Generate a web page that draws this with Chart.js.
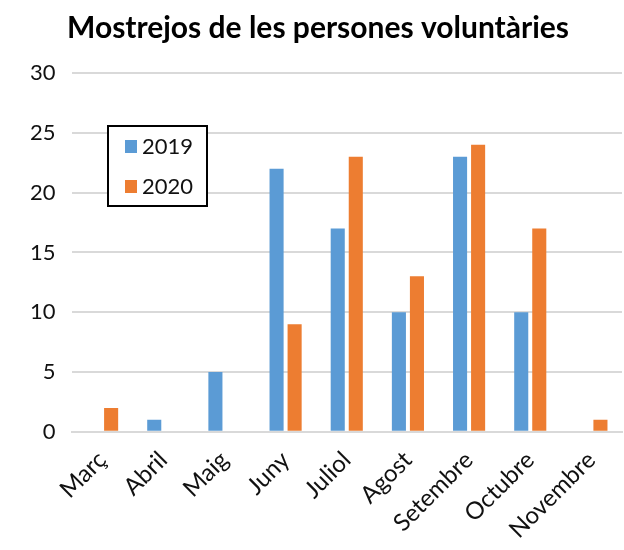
<!DOCTYPE html>
<html>
<head>
<meta charset="utf-8">
<script src="https://cdn.jsdelivr.net/npm/chart.js@4"></script>
<style>
  body { margin: 0; background: #fff; }
  #wrap { width: 624px; height: 550px; }
</style>
</head>
<body>
<div id="wrap"><canvas id="chart" width="624" height="550"></canvas></div>
<script>
// Data
const months = ['Març', 'Abril', 'Maig', 'Juny', 'Juliol', 'Agost', 'Setembre', 'Octubre', 'Novembre'];
const values2019 = [0, 1, 5, 22, 17, 10, 23, 10, 0];
const values2020 = [2, 0, 0, 9, 23, 13, 24, 17, 1];
const yTicks = [0, 5, 10, 15, 20, 25, 30];

const fontFamily = 'Lato, "Open Sans", sans-serif';

// Boxed legend drawn inside the plot area, top-left
const boxLegend = {
    id: 'boxLegend',
    afterDraw(chart) {
        const ctx = chart.ctx;
        const x = 108, y = 126, w = 99, h = 80;
        ctx.save();
        ctx.fillStyle = '#fff';
        ctx.fillRect(x, y, w, h);
        ctx.strokeStyle = '#000';
        ctx.lineWidth = 2;
        ctx.strokeRect(x, y, w, h);
        ctx.font = '22px ' + fontFamily;
        ctx.textBaseline = 'middle';
        chart.data.datasets.forEach((ds, i) => {
            const cy = y + 20 + i * 40;
            ctx.fillStyle = ds.backgroundColor;
            ctx.fillRect(x + 17, cy - 6, 12, 13);
            ctx.fillStyle = '#111';
            ctx.fillText(ds.label, x + 34, cy + 1);
        });
        ctx.restore();
    }
};

new Chart(document.getElementById('chart'), {
    type: 'bar',
    data: {
        labels: months,
        datasets: [
            { label: '2019', data: values2019, backgroundColor: '#5B9BD5' },
            { label: '2020', data: values2020, backgroundColor: '#ED7D31' }
        ]
    },
    options: {
        responsive: false,
        animation: false,
        categoryPercentage: 0.59,
        barPercentage: 0.78,
        layout: { padding: { left: 14, right: 2, top: 6, bottom: 0 } },
        plugins: {
            legend: { display: false },
            tooltip: { enabled: false },
            title: {
                display: true,
                text: 'Mostrejos de les persones voluntàries',
                color: '#000',
                font: { family: fontFamily, size: 30, weight: 'bold' },
                padding: { top: 4, bottom: 27 }
            }
        },
        scales: {
            x: {
                grid: { display: false },
                border: { display: true, color: '#d9d9d9', width: 2 },
                ticks: {
                    color: '#111',
                    font: { family: fontFamily, size: 24 },
                    minRotation: 45,
                    maxRotation: 45,
                    padding: 6
                }
            },
            y: {
                min: 0,
                max: 30,
                afterBuildTicks(axis) {
                    axis.ticks = yTicks.map(v => ({ value: v }));
                },
                grid: { color: '#d9d9d9', lineWidth: 2, drawTicks: false },
                border: { display: false },
                ticks: {
                    color: '#111',
                    font: { family: fontFamily, size: 22 },
                    padding: 16
                }
            }
        }
    },
    plugins: [boxLegend]
});
</script>
</body>
</html>
